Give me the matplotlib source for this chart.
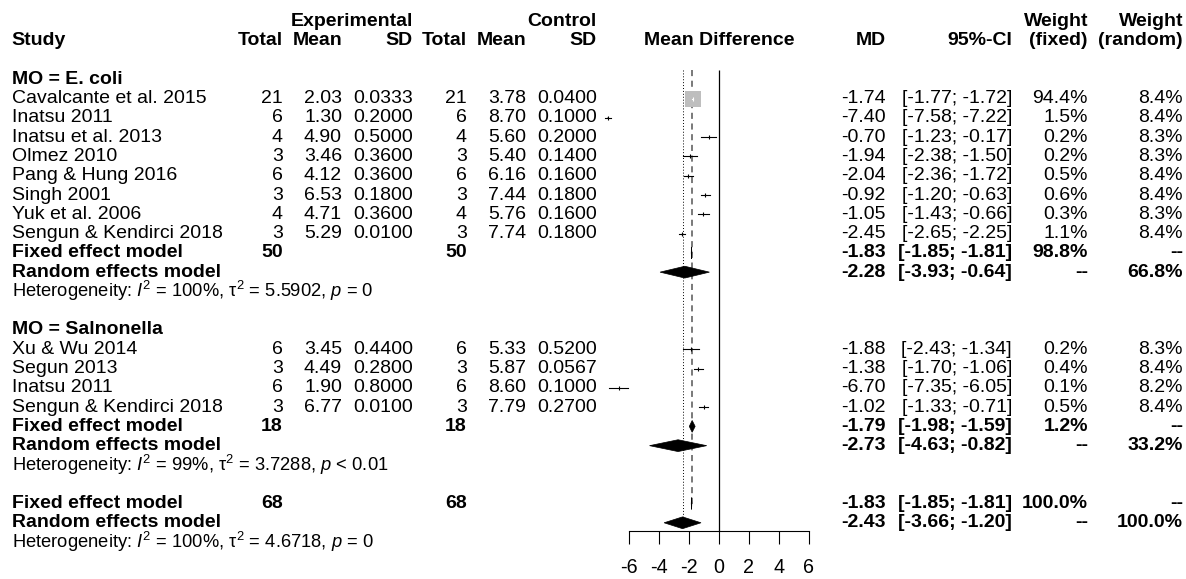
import matplotlib
matplotlib.use("Agg")
import matplotlib.pyplot as plt
import numpy as np

plt.rcParams['font.family'] = ['Liberation Sans', 'DejaVu Sans']
plt.rcParams['mathtext.fontset'] = 'custom'
plt.rcParams['mathtext.rm'] = 'Liberation Sans'
plt.rcParams['mathtext.it'] = 'Liberation Sans:italic'
plt.rcParams['mathtext.bf'] = 'Liberation Sans:bold'

# ---------------- data ----------------
group_labels = ["MO = E. coli", "MO = Salnonella"]

studies1 = ["Cavalcante et al. 2015", "Inatsu 2011", "Inatsu et al. 2013", "Olmez 2010",
            "Pang & Hung 2016", "Singh 2001", "Yuk et al. 2006", "Sengun & Kendirci 2018"]
exp_n1 = [21, 6, 4, 3, 6, 3, 4, 3]
exp_mean1 = ["2.03", "1.30", "4.90", "3.46", "4.12", "6.53", "4.71", "5.29"]
exp_sd1 = ["0.0333", "0.2000", "0.5000", "0.3600", "0.3600", "0.1800", "0.3600", "0.0100"]
ctl_n1 = [21, 6, 4, 3, 6, 3, 4, 3]
ctl_mean1 = ["3.78", "8.70", "5.60", "5.40", "6.16", "7.44", "5.76", "7.74"]
ctl_sd1 = ["0.0400", "0.1000", "0.2000", "0.1400", "0.1600", "0.1800", "0.1600", "0.1800"]
md1 = [-1.74, -7.40, -0.70, -1.94, -2.04, -0.92, -1.05, -2.45]
lo1 = [-1.77, -7.58, -1.23, -2.38, -2.36, -1.20, -1.43, -2.65]
hi1 = [-1.72, -7.22, -0.17, -1.50, -1.72, -0.63, -0.66, -2.25]
wf1 = [94.4, 1.5, 0.2, 0.2, 0.5, 0.6, 0.3, 1.1]
wr1 = [8.4, 8.4, 8.3, 8.3, 8.4, 8.4, 8.3, 8.4]

studies2 = ["Xu & Wu 2014", "Segun 2013", "Inatsu 2011", "Sengun & Kendirci 2018"]
exp_n2 = [6, 3, 6, 3]
exp_mean2 = ["3.45", "4.49", "1.90", "6.77"]
exp_sd2 = ["0.4400", "0.2800", "0.8000", "0.0100"]
ctl_n2 = [6, 3, 6, 3]
ctl_mean2 = ["5.33", "5.87", "8.60", "7.79"]
ctl_sd2 = ["0.5200", "0.0567", "0.1000", "0.2700"]
md2 = [-1.88, -1.38, -6.70, -1.02]
lo2 = [-2.43, -1.70, -7.35, -1.33]
hi2 = [-1.34, -1.06, -6.05, -0.71]
wf2 = [0.2, 0.4, 0.1, 0.5]
wr2 = [8.3, 8.4, 8.2, 8.4]

# summaries: (estimate, lower, upper, weight fixed, weight random)
sum_n1 = 50
fix1 = (-1.83, -1.85, -1.81, "98.8%", "--")
ran1 = (-2.28, -3.93, -0.64, "--", "66.8%")
het1 = r"Heterogeneity: $\mathit{I}^2$ = 100%, τ$^2$ = 5.5902, $\mathit{p}$ = 0"
sum_n2 = 18
fix2 = (-1.79, -1.98, -1.59, "1.2%", "--")
ran2 = (-2.73, -4.63, -0.82, "--", "33.2%")
het2 = r"Heterogeneity: $\mathit{I}^2$ = 99%, τ$^2$ = 3.7288, $\mathit{p}$ < 0.01"
sum_n_all = 68
fix_all = (-1.83, -1.85, -1.81, "100.0%", "--")
ran_all = (-2.43, -3.66, -1.20, "--", "100.0%")
het_all = r"Heterogeneity: $\mathit{I}^2$ = 100%, τ$^2$ = 4.6718, $\mathit{p}$ = 0"

xticks = [-6, -4, -2, 0, 2, 4, 6]

# ---------------- layout ----------------
W, H = 1186, 579
Y0, DY = 21.5, 19.28
def ry(r):
    return Y0 + DY * r

FS = 14.0
FS_H = 13.2
col_study = 11.7
col_en, col_em, col_esd = 283, 342, 413
col_cn, col_cm, col_csd = 467, 526, 597
col_md, col_ci, col_wf, col_wr = 886, 1012, 1088, 1183
col_forest = 719

fig = plt.figure(figsize=(W / 100, H / 100), dpi=100)
tax = fig.add_axes([0, 0, 1, 1])
tax.set_xlim(0, W)
tax.set_ylim(H, 0)
tax.axis('off')

axis_px = 530.7
fax = fig.add_axes([629 / W, (H - axis_px) / H, 180 / W, axis_px / H])
fax.set_xlim(-6, 6)
fax.set_ylim(axis_px, 0)
fax.patch.set_alpha(0)
for s in ['top', 'right', 'left']:
    fax.spines[s].set_visible(False)
fax.spines['bottom'].set_bounds(-6, 6)
fax.spines['bottom'].set_linewidth(0.8)
fax.set_xticks(xticks)
fax.set_xticklabels([str(t) for t in xticks])
fax.tick_params(axis='x', direction='out', length=9.6, width=0.8, labelsize=14.2, pad=10)
fax.set_yticks([])

def txt(x, r, s, ha='right', bold=False, size=FS):
    tax.text(x, ry(r), s, ha=ha, va='center', fontsize=size,
             fontweight='bold' if bold else 'normal')

# header
txt(col_esd, 0, "Experimental", bold=True)
txt(col_csd, 0, "Control", bold=True)
txt(col_wf, 0, "Weight", bold=True)
txt(col_wr, 0, "Weight", bold=True)
txt(col_study, 1, "Study", ha='left', bold=True)
for x, s in [(col_en, "Total"), (col_em, "Mean"), (col_esd, "SD"),
             (col_cn, "Total"), (col_cm, "Mean"), (col_csd, "SD"),
             (col_md, "MD"), (col_ci, "95%-CI"), (col_wf, "(fixed)"), (col_wr, "(random)")]:
    txt(x, 1, s, bold=True)
txt(col_forest, 1, "Mean Difference", ha='center', bold=True)

PX = 15.0  # px per unit on forest axis
SQ_MAX = 16.0
W_MAX = max(wf1 + wf2)

def study_row(r, name, en, em, esd, cn, cm, csd, m, lo, hi, wf, wr):
    txt(col_study, r, name, ha='left')
    txt(col_en, r, str(en)); txt(col_em, r, em); txt(col_esd, r, esd)
    txt(col_cn, r, str(cn)); txt(col_cm, r, cm); txt(col_csd, r, csd)
    txt(col_md, r, f"{m:.2f}")
    txt(col_ci, r, f"[{lo:.2f}; {hi:.2f}]")
    txt(col_wf, r, f"{wf:.1f}%"); txt(col_wr, r, f"{wr:.1f}%")
    side = SQ_MAX * np.sqrt(wf / W_MAX)
    y = ry(r)
    fax.plot([m], [y], marker='s', markersize=side * 0.72, color='#bebebe',
             markeredgewidth=0, clip_on=False, zorder=3)
    inside = (hi - lo) * PX < side
    c = 'white' if inside else 'black'
    fax.plot([lo, hi], [y, y], color=c, lw=0.8, clip_on=False, zorder=4)
    fax.plot([m], [y], marker='|', markersize=3.0, color=c, markeredgewidth=0.8,
             clip_on=False, zorder=4)

def summary_row(r, label, n, res):
    est, lo, hi, wfs, wrs = res
    txt(col_study, r, label, ha='left', bold=True)
    if n is not None:
        txt(col_en, r, str(n), bold=True)
        txt(col_cn, r, str(n), bold=True)
    txt(col_md, r, f"{est:.2f}", bold=True)
    txt(col_ci, r, f"[{lo:.2f}; {hi:.2f}]", bold=True)
    txt(col_wf, r, wfs, bold=True)
    txt(col_wr, r, wrs, bold=True)
    y = ry(r)
    h = 5.9
    fax.fill([lo, est, hi, est], [y, y - h, y, y + h], color='black',
             lw=0.5, clip_on=False, zorder=4)

# group 1
txt(col_study, 3, group_labels[0], ha='left', bold=True)
for i in range(len(studies1)):
    study_row(4 + i, studies1[i], exp_n1[i], exp_mean1[i], exp_sd1[i], ctl_n1[i],
              ctl_mean1[i], ctl_sd1[i], md1[i], lo1[i], hi1[i], wf1[i], wr1[i])
summary_row(12, "Fixed effect model", sum_n1, fix1)
summary_row(13, "Random effects model", None, ran1)
txt(col_study, 14, het1, ha='left', size=FS_H)

# group 2
txt(col_study, 16, group_labels[1], ha='left', bold=True)
for i in range(len(studies2)):
    study_row(17 + i, studies2[i], exp_n2[i], exp_mean2[i], exp_sd2[i], ctl_n2[i],
              ctl_mean2[i], ctl_sd2[i], md2[i], lo2[i], hi2[i], wf2[i], wr2[i])
summary_row(21, "Fixed effect model", sum_n2, fix2)
summary_row(22, "Random effects model", None, ran2)
txt(col_study, 23, het2, ha='left', size=FS_H)

# overall
summary_row(25, "Fixed effect model", sum_n_all, fix_all)
summary_row(26, "Random effects model", None, ran_all)
txt(col_study, 27, het_all, ha='left', size=FS_H)

# reference lines
top_px = 70
fax.vlines(0, top_px, axis_px, color='black', lw=0.9, zorder=2, clip_on=False)
fax.vlines(fix_all[0], top_px, 507, color='#555555', lw=1.1, linestyles=(0, (4, 3)), zorder=2)
fax.vlines(ran_all[0], top_px, ry(26), color='black', lw=0.7, linestyles=(0, (1, 2)), zorder=2)

fig.savefig("out.png", dpi=100)
